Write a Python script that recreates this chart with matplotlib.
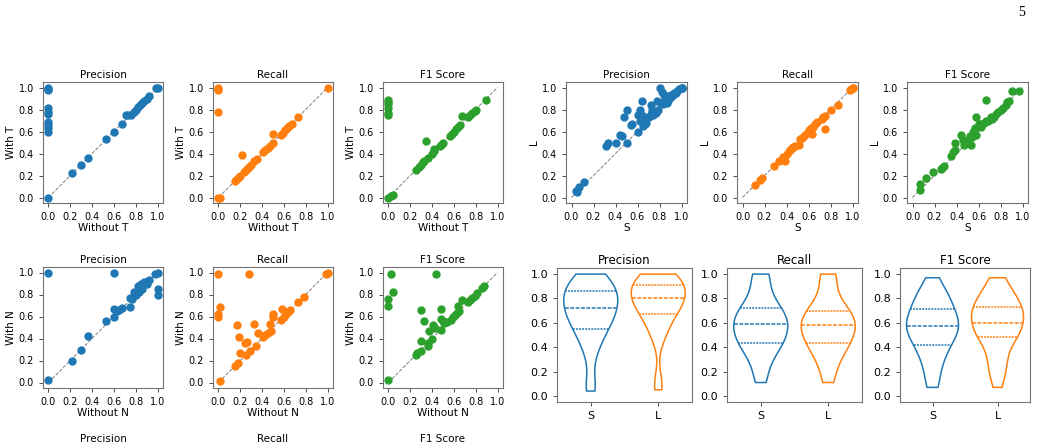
import matplotlib

matplotlib.use("Agg")
import matplotlib.pyplot as plt
import numpy as np
import pandas as pd
import seaborn as sns

W, H = 1039, 445
COLORS = ["#1f77b4", "#ff7f0e", "#2ca02c"]
METRICS = ["Precision", "Recall", "F1 Score"]
MODELS = ["S", "L"]

# --- ablation: without / with T ---
T_PREC_WITHOUT = [0, 0, 0, 0, 0, 0, 0, 0, 0, 0, 0, 0.22, 0.30, 0.36, 0.53, 0.60, 0.67, 0.71, 0.73, 0.76,
                  0.78, 0.80, 0.82, 0.84, 0.86, 0.88, 0.90, 0.92, 0.99, 1.0]
T_PREC_WITH = [1.0, 0.99, 0.98, 0.81, 0.78, 0.76, 0.69, 0.66, 0.63, 0.60, 0.0, 0.22, 0.30, 0.36, 0.53, 0.60,
               0.67, 0.75, 0.75, 0.75, 0.78, 0.80, 0.82, 0.84, 0.86, 0.88, 0.90, 0.92, 1.0, 1.0]
T_REC_WITHOUT = [0, 0, 0, 0, 0, 0.01, 0.15, 0.17, 0.19, 0.20, 0.23, 0.25, 0.27, 0.28, 0.30, 0.33, 0.35, 0.41,
                 0.43, 0.45, 0.47, 0.50, 0.57, 0.59, 0.61, 0.63, 0.65, 0.67, 0.73, 1.0, 0.22, 0.50]
T_REC_WITH = [1.0, 0.99, 0.98, 0.78, 0.0, 0.0, 0.15, 0.17, 0.19, 0.20, 0.23, 0.25, 0.27, 0.28, 0.30, 0.33, 0.35,
              0.41, 0.43, 0.45, 0.47, 0.50, 0.57, 0.59, 0.61, 0.63, 0.65, 0.67, 0.73, 1.0, 0.39, 0.58]
T_F1_WITHOUT = [0, 0, 0, 0, 0, 0, 0, 0.02, 0.04, 0.25, 0.28, 0.30, 0.32, 0.33, 0.36, 0.40, 0.42, 0.47, 0.49,
                0.50, 0.56, 0.58, 0.60, 0.62, 0.64, 0.66, 0.73, 0.75, 0.77, 0.79, 0.80, 0.89, 0.34, 0.67, 0.42]
T_F1_WITH = [0.89, 0.87, 0.85, 0.81, 0.77, 0.75, 0.0, 0.01, 0.02, 0.25, 0.28, 0.30, 0.32, 0.33, 0.36, 0.40, 0.42,
             0.47, 0.49, 0.50, 0.56, 0.58, 0.60, 0.62, 0.64, 0.66, 0.73, 0.75, 0.77, 0.79, 0.80, 0.89, 0.51, 0.74,
             0.44]

# --- ablation: without / with N ---
N_PREC_WITHOUT = [0.0, 0.0, 0.22, 0.30, 0.36, 0.53, 0.60, 0.60, 0.60, 0.63, 0.65, 0.67, 0.75, 0.75, 0.77, 0.78,
                  0.80, 0.82, 0.83, 0.85, 0.86, 0.88, 0.90, 0.92, 0.98, 1.0, 1.0, 1.0]
N_PREC_WITH = [1.0, 0.02, 0.20, 0.30, 0.42, 0.56, 0.60, 1.0, 0.67, 0.65, 0.66, 0.68, 0.77, 0.69, 0.76, 0.82,
               0.80, 0.88, 0.82, 0.90, 0.85, 0.91, 0.90, 0.93, 0.99, 1.0, 0.85, 0.80]
N_REC_WITHOUT = [0.0, 0.0, 0.0, 0.01, 0.01, 0.15, 0.17, 0.18, 0.19, 0.20, 0.24, 0.26, 0.25, 0.28, 0.29, 0.33,
                 0.34, 0.36, 0.41, 0.43, 0.45, 0.47, 0.48, 0.50, 0.50, 0.57, 0.58, 0.60, 0.62, 0.64, 0.66, 0.73,
                 0.78, 0.99, 1.0]
N_REC_WITH = [0.99, 0.62, 0.60, 0.69, 0.01, 0.15, 0.52, 0.18, 0.41, 0.27, 0.36, 0.37, 0.25, 0.99, 0.29, 0.53,
              0.33, 0.45, 0.41, 0.43, 0.45, 0.53, 0.47, 0.62, 0.60, 0.57, 0.67, 0.60, 0.62, 0.64, 0.66, 0.73,
              0.78, 0.99, 1.0]
N_F1_WITHOUT = [0.0, 0.0, 0.02, 0.04, 0.0, 0.25, 0.26, 0.30, 0.30, 0.30, 0.33, 0.36, 0.36, 0.37, 0.40, 0.41,
                0.43, 0.44, 0.48, 0.48, 0.48, 0.50, 0.51, 0.54, 0.57, 0.59, 0.61, 0.63, 0.64, 0.65, 0.67, 0.73,
                0.75, 0.77, 0.79, 0.81, 0.86, 0.88]
N_F1_WITH = [0.76, 0.70, 0.99, 0.82, 0.02, 0.25, 0.27, 0.29, 0.66, 0.38, 0.56, 0.36, 0.33, 0.47, 0.40, 0.52,
             0.50, 0.99, 0.67, 0.58, 0.48, 0.56, 0.54, 0.55, 0.57, 0.60, 0.61, 0.63, 0.70, 0.65, 0.75, 0.73,
             0.75, 0.77, 0.79, 0.81, 0.86, 0.88]

# --- model comparison: S vs L ---
SL_PREC_S = [0.04, 0.05, 0.07, 0.11, 0.31, 0.33, 0.40, 0.44, 0.46, 0.48, 0.50, 0.50, 0.54, 0.55, 0.60, 0.60,
             0.62, 0.62, 0.63, 0.64, 0.65, 0.65, 0.67, 0.68, 0.70, 0.72, 0.72, 0.73, 0.74, 0.75, 0.77, 0.78,
             0.79, 0.80, 0.81, 0.82, 0.83, 0.84, 0.85, 0.87, 0.88, 0.90, 0.92, 0.95, 1.0, 0.86, 0.88, 0.90,
             0.93, 0.96, 0.98, 1.0, 1.0]
SL_PREC_L = [0.06, 0.05, 0.10, 0.14, 0.47, 0.50, 0.50, 0.57, 0.56, 0.73, 0.80, 0.50, 0.66, 0.67, 0.60, 0.75,
             0.80, 0.70, 0.75, 0.88, 0.74, 0.65, 0.67, 0.68, 0.73, 0.84, 0.76, 0.80, 0.75, 0.78, 0.77, 0.88,
             0.80, 1.0, 0.86, 0.96, 0.85, 0.93, 0.90, 0.86, 0.88, 0.91, 0.93, 0.95, 1.0, 0.90, 0.92, 0.93,
             0.95, 0.97, 0.99, 1.0, 1.0]
SL_REC_S = [0.11, 0.16, 0.18, 0.29, 0.33, 0.37, 0.39, 0.40, 0.42, 0.44, 0.46, 0.48, 0.51, 0.52, 0.54, 0.56,
            0.58, 0.60, 0.62, 0.63, 0.64, 0.66, 0.72, 0.73, 0.75, 0.80, 0.87, 0.98, 0.99, 1.0, 0.60, 0.62,
            0.68, 0.75, 1.0, 0.45]
SL_REC_L = [0.11, 0.16, 0.18, 0.29, 0.33, 0.37, 0.33, 0.40, 0.42, 0.44, 0.46, 0.47, 0.48, 0.53, 0.54, 0.56,
            0.58, 0.60, 0.62, 0.58, 0.64, 0.67, 0.71, 0.73, 0.62, 0.80, 0.84, 0.98, 0.99, 1.0, 0.61, 0.63,
            0.69, 0.74, 1.0, 0.45]
SL_F1_S = [0.07, 0.07, 0.12, 0.19, 0.26, 0.27, 0.29, 0.35, 0.37, 0.39, 0.39, 0.44, 0.46, 0.47, 0.52, 0.53,
           0.54, 0.56, 0.57, 0.58, 0.58, 0.60, 0.62, 0.67, 0.67, 0.69, 0.71, 0.72, 0.74, 0.76, 0.78, 0.80,
           0.82, 0.85, 0.86, 0.88, 0.90, 0.97, 0.50, 0.55, 0.48, 0.62, 0.65]
SL_F1_L = [0.07, 0.12, 0.18, 0.23, 0.26, 0.27, 0.29, 0.38, 0.41, 0.43, 0.50, 0.57, 0.52, 0.48, 0.56, 0.48,
           0.55, 0.60, 0.63, 0.73, 0.57, 0.67, 0.67, 0.89, 0.70, 0.70, 0.73, 0.71, 0.73, 0.76, 0.78, 0.80,
           0.81, 0.84, 0.87, 0.88, 0.97, 0.97, 0.52, 0.60, 0.50, 0.64, 0.68]

T_DATA = [(T_PREC_WITHOUT, T_PREC_WITH), (T_REC_WITHOUT, T_REC_WITH), (T_F1_WITHOUT, T_F1_WITH)]
N_DATA = [(N_PREC_WITHOUT, N_PREC_WITH), (N_REC_WITHOUT, N_REC_WITH), (N_F1_WITHOUT, N_F1_WITH)]
SL_DATA = [(SL_PREC_S, SL_PREC_L), (SL_REC_S, SL_REC_L), (SL_F1_S, SL_F1_L)]

SPINE = "0.45"


def px_axes(fig, left, top, right, bottom):
    return fig.add_axes([left / W, 1 - bottom / H, (right - left) / W, (bottom - top) / H])


def style(ax, tick_size):
    for s in ax.spines.values():
        s.set_color(SPINE)
        s.set_linewidth(0.8)
    ax.tick_params(colors="0.3", labelcolor="black", labelsize=tick_size, length=3, width=0.7)


def scatter_panel(ax, x, y, color, title, xlabel, ylabel):
    ax.plot([0, 1], [0, 1], ls="--", color="gray", lw=0.7, zorder=1)
    ax.scatter(x, y, s=25, color=color, zorder=2)
    ax.set_xticks(np.arange(0, 1.01, 0.2))
    ax.set_yticks(np.arange(0, 1.01, 0.2))
    ax.set_title(title, fontsize=7.5, pad=3)
    ax.set_xlabel(xlabel, fontsize=7.5, labelpad=1)
    ax.set_ylabel(ylabel, fontsize=7.5, labelpad=2)
    style(ax, 7)


def violin_panel(ax, s_vals, l_vals, title):
    df = pd.DataFrame({
        "model": ["S"] * len(s_vals) + ["L"] * len(l_vals),
        "value": list(s_vals) + list(l_vals),
    })
    sns.violinplot(data=df, x="model", y="value", hue="model", order=MODELS, hue_order=MODELS,
                   palette=COLORS[:2], fill=False, inner="quart", cut=0, linewidth=1.1,
                   legend=False, ax=ax)
    ax.set_xlabel("")
    ax.set_ylabel("")
    ax.set_yticks(np.arange(0, 1.01, 0.2))
    ax.set_ylim(-0.05, 1.05)
    ax.set_title(title, fontsize=8.5, pad=3)
    style(ax, 8)


fig = plt.figure(figsize=(W / 100, H / 100), dpi=100)

cols_left = [(43, 163), (213, 333), (383, 503)]
cols_right = [(566, 687), (737, 858), (907, 1028)]

for k, (l, r) in enumerate(cols_left):
    ax = px_axes(fig, l, 82, r, 203)
    scatter_panel(ax, T_DATA[k][0], T_DATA[k][1], COLORS[k], METRICS[k], "Without T", "With T")
    ax = px_axes(fig, l, 267, r, 388)
    scatter_panel(ax, N_DATA[k][0], N_DATA[k][1], COLORS[k], METRICS[k], "Without N", "With N")

for k, (l, r) in enumerate(cols_right):
    ax = px_axes(fig, l, 82, r, 203)
    scatter_panel(ax, SL_DATA[k][0], SL_DATA[k][1], COLORS[k], METRICS[k], "S", "L")

violin_cols = [(557, 692), (727, 862), (900, 1030)]
for k, (l, r) in enumerate(violin_cols):
    ax = px_axes(fig, l, 268, r, 402)
    violin_panel(ax, SL_DATA[k][0], SL_DATA[k][1], METRICS[k])

# titles of the next row of panels at the page bottom
for k, (l, r) in enumerate(cols_left):
    fig.text((l + r) / 2 / W, 1 / H, METRICS[k], fontsize=7.5, ha="center", va="bottom")

fig.text(1022 / W, 1 - 12 / H, "5", family="Liberation Serif", fontsize=10, ha="center", va="center")

fig.savefig("out.png", dpi=100)
